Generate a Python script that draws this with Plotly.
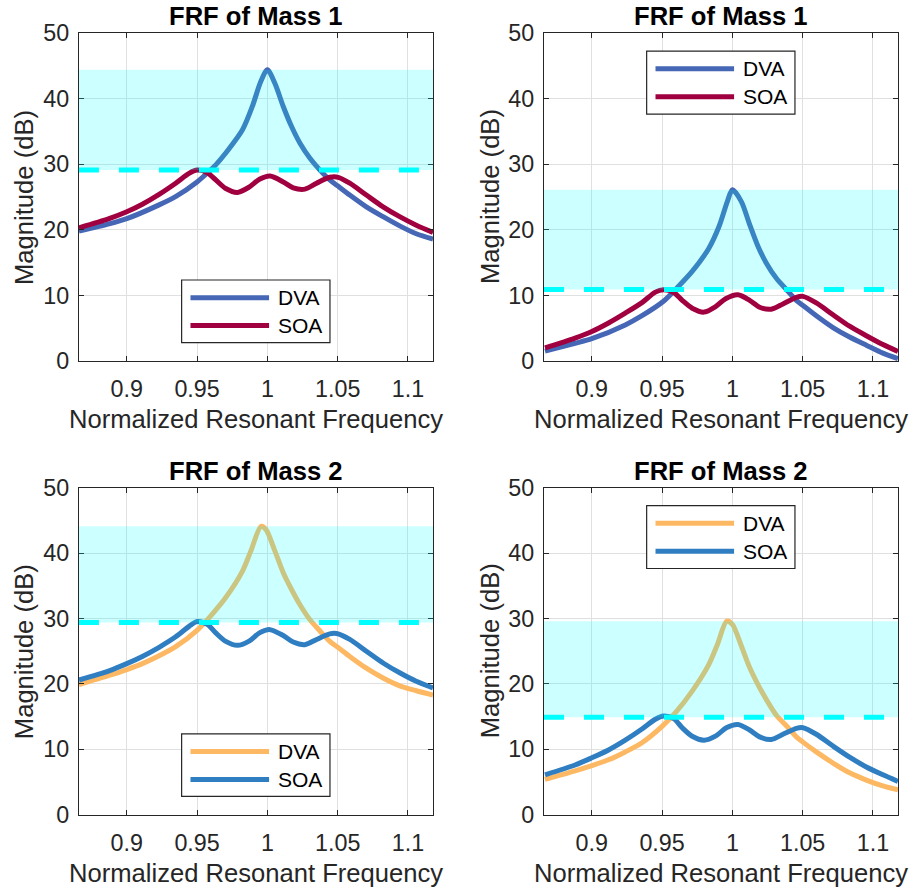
import plotly.graph_objects as go

# ---------------------------------------------------------------------------
# Axis settings shared by all four panels
# ---------------------------------------------------------------------------
FREQ_TICKS = [0.9, 0.95, 1.0, 1.05, 1.1]
FREQ_TICK_TEXT = ["0.9", "0.95", "1", "1.05", "1.1"]
MAG_TICKS = [0, 10, 20, 30, 40, 50]
FREQ_RANGE = [0.866, 1.1178]
MAG_RANGE = [0, 50]

TITLES = ["FRF of Mass 1", "FRF of Mass 1", "FRF of Mass 2", "FRF of Mass 2"]
X_LABEL = "Normalized Resonant Frequency"
Y_LABEL = "Magnitude (dB)"
SERIES_NAMES = ["DVA", "SOA"]

# ---------------------------------------------------------------------------
# Panel 1 (top left): mass 1
# ---------------------------------------------------------------------------
p1_dva_f = [0.866, 0.8874, 0.900, 0.923, 0.935, 0.950, 0.9585, 0.9633, 0.9704,
            0.9822, 0.9893, 0.9953, 1.000, 1.0054, 1.0113, 1.0173, 1.0232,
            1.0303, 1.0374, 1.0444, 1.050, 1.0586, 1.0704, 1.0823, 1.0941,
            1.1059, 1.1178]
p1_dva = [19.8, 20.9, 21.7, 23.8, 25.1, 27.3, 28.9, 29.9, 31.7,
          35.2, 38.8, 42.6, 44.4, 42.3, 38.8, 35.7, 33.2,
          30.9, 29.1, 27.6, 26.7, 25.3, 23.5, 22.0, 20.6,
          19.4, 18.6]
p1_soa_f = [0.866, 0.8874, 0.900, 0.9111, 0.923, 0.9348, 0.9443, 0.950, 0.9573,
            0.9633, 0.9704, 0.9787, 0.987, 0.9944, 1.0019, 1.0113, 1.0184,
            1.0267, 1.035, 1.0444, 1.0504, 1.0586, 1.0704, 1.0823, 1.0941,
            1.1059, 1.1178]
p1_soa = [20.3, 21.7, 22.75, 23.9, 25.4, 27.1, 28.6, 29.1, 28.7,
          27.6, 26.3, 25.7, 26.5, 27.7, 28.2, 27.3, 26.4,
          26.2, 27.1, 28.0, 28.0, 27.1, 25.3, 23.5, 22.0,
          20.7, 19.6]
p1_threshold = 29.1

# ---------------------------------------------------------------------------
# Panel 2 (top right): mass 1
# ---------------------------------------------------------------------------
p2_dva_f = [0.8667, 0.8881, 0.900, 0.9238, 0.9357, 0.951, 0.9595, 0.9714,
            0.9833, 0.9905, 0.9964, 1.000, 1.0064, 1.0123, 1.0182, 1.0242,
            1.0313, 1.0384, 1.0455, 1.0512, 1.0597, 1.0716, 1.0834, 1.0953,
            1.1071, 1.1178]
p2_dva = [1.5, 2.7, 3.4, 5.5, 6.9, 9.1, 10.9, 13.65,
          17.2, 20.5, 24.3, 26.1, 24.3, 20.8, 17.5, 14.9,
          12.6, 10.9, 9.25, 8.3, 6.9, 5.1, 3.65, 2.4,
          1.2, 0.35]
p2_soa_f = [0.8667, 0.8881, 0.900, 0.9119, 0.9238, 0.9357, 0.9452, 0.951,
            0.9583, 0.9643, 0.9714, 0.9798, 0.9881, 0.9952, 1.004, 1.0123,
            1.0194, 1.0277, 1.036, 1.0455, 1.0502, 1.0597, 1.0716, 1.0834,
            1.0953, 1.1071, 1.1178]
p2_soa = [2.0, 3.5, 4.5, 5.8, 7.3, 8.9, 10.5, 10.85,
          10.45, 9.25, 8.05, 7.45, 8.3, 9.5, 10.1, 9.25,
          8.2, 7.9, 8.7, 9.7, 9.85, 8.85, 7.05, 5.3,
          3.85, 2.5, 1.45]
p2_threshold = 10.9

# ---------------------------------------------------------------------------
# Panel 3 (bottom left): mass 2
# ---------------------------------------------------------------------------
p3_dva_f = [0.866, 0.8874, 0.900, 0.9111, 0.923, 0.9348, 0.950, 0.9585, 0.9704,
            0.9822, 0.9882, 0.9955, 0.9991, 1.0054, 1.0113, 1.0173, 1.0232,
            1.0303, 1.0374, 1.0444, 1.0501, 1.0586, 1.0704, 1.0823, 1.0941,
            1.1059, 1.1178]
p3_dva = [19.9, 21.3, 22.2, 23.1, 24.3, 25.7, 28.2, 30.1, 33.2,
          37.2, 40.3, 44.1, 43.6, 40.3, 37.0, 34.4, 32.1,
          29.8, 28.1, 26.5, 25.6, 24.2, 22.4, 20.9, 19.7,
          18.95, 18.3]
p3_soa_f = [0.866, 0.8874, 0.900, 0.9111, 0.923, 0.9348, 0.9443, 0.950, 0.9573,
            0.9633, 0.9704, 0.9787, 0.987, 0.9944, 1.0019, 1.0113, 1.0184,
            1.0267, 1.035, 1.0444, 1.0492, 1.0586, 1.0704, 1.0823, 1.0941,
            1.1059, 1.1178]
p3_soa = [20.6, 22.0, 23.1, 24.2, 25.6, 27.2, 28.8, 29.55, 29.1,
          27.8, 26.5, 25.9, 26.55, 27.8, 28.3, 27.4, 26.4,
          26.0, 26.8, 27.65, 27.7, 26.8, 25.0, 23.2, 21.7,
          20.4, 19.4]
p3_threshold = 29.4

# ---------------------------------------------------------------------------
# Panel 4 (bottom right): mass 2
# ---------------------------------------------------------------------------
p4_dva_f = [0.8667, 0.8881, 0.900, 0.9119, 0.9238, 0.9357, 0.950, 0.9595,
            0.9714, 0.9833, 0.9893, 0.996, 1.000, 1.0064, 1.0123, 1.0182,
            1.0242, 1.0313, 1.0384, 1.0455, 1.0502, 1.0597, 1.0716, 1.0834,
            1.0953, 1.1071, 1.1178]
p4_dva = [5.4, 6.7, 7.5, 8.4, 9.6, 11.0, 13.5, 15.6,
          18.9, 23.0, 26.0, 29.6, 29.1, 25.8, 22.5, 19.9,
          17.6, 15.2, 13.6, 11.9, 11.1, 9.6, 7.9, 6.4,
          5.3, 4.4, 3.8]
p4_soa_f = [0.8667, 0.8881, 0.900, 0.9119, 0.9238, 0.9357, 0.9452, 0.951,
            0.9583, 0.9643, 0.9714, 0.9798, 0.9886, 0.9957, 1.004, 1.0123,
            1.0194, 1.0277, 1.036, 1.0455, 1.0502, 1.0597, 1.0716, 1.0834,
            1.0953, 1.1071, 1.1178]
p4_soa = [6.1, 7.6, 8.7, 9.9, 11.4, 13.1, 14.6, 15.1,
          14.7, 13.3, 12.0, 11.4, 12.1, 13.3, 13.8, 12.95,
          11.9, 11.5, 12.3, 13.2, 13.3, 12.3, 10.5, 8.8,
          7.3, 6.1, 5.1]
p4_threshold = 14.9

# ---------------------------------------------------------------------------
# Styling
# ---------------------------------------------------------------------------
FONT = "Liberation Sans, Arial, Helvetica, sans-serif"
AX_COLOR = "#262626"
GRID_COLOR = "#E0E0E0"
BAND_COLOR = "#00FFFF"
LINE_W = 5

MASS1_COLORS = ["#4567B5", "#A0003F"]   # DVA, SOA
MASS2_COLORS = ["#FDB863", "#2F7EC1"]   # DVA, SOA

X_DOMAINS = [[0.0862, 0.4727], [0.5939, 0.9803]]
Y_DOMAINS = [[0.5944, 0.9629], [0.0846, 0.4520]]

panels = [
    dict(dva=(p1_dva_f, p1_dva), soa=(p1_soa_f, p1_soa), thr=p1_threshold,
         colors=MASS1_COLORS, xd=X_DOMAINS[0], yd=Y_DOMAINS[0], legend_top=False),
    dict(dva=(p2_dva_f, p2_dva), soa=(p2_soa_f, p2_soa), thr=p2_threshold,
         colors=MASS1_COLORS, xd=X_DOMAINS[1], yd=Y_DOMAINS[0], legend_top=True),
    dict(dva=(p3_dva_f, p3_dva), soa=(p3_soa_f, p3_soa), thr=p3_threshold,
         colors=MASS2_COLORS, xd=X_DOMAINS[0], yd=Y_DOMAINS[1], legend_top=False),
    dict(dva=(p4_dva_f, p4_dva), soa=(p4_soa_f, p4_soa), thr=p4_threshold,
         colors=MASS2_COLORS, xd=X_DOMAINS[1], yd=Y_DOMAINS[1], legend_top=True),
]

fig = go.Figure()
shapes = []
annotations = []
layout_axes = {}

for i, p in enumerate(panels, start=1):
    sfx = "" if i == 1 else str(i)
    xref, yref = "x" + sfx, "y" + sfx

    # response curves: DVA first, SOA on top
    for (f, mag), name, color in zip((p["dva"], p["soa"]), SERIES_NAMES, p["colors"]):
        fig.add_trace(go.Scatter(
            x=f, y=mag, name=name, mode="lines",
            line=dict(color=color, width=LINE_W, shape="spline", smoothing=0.8),
            xaxis=xref, yaxis=yref, showlegend=False,
        ))

    # translucent band between the SOA threshold and the DVA peak
    shapes.append(dict(
        type="rect", xref=xref + " domain", yref=yref,
        x0=0, x1=1, y0=p["thr"], y1=max(p["dva"][1]),
        fillcolor=BAND_COLOR, opacity=0.2, line=dict(width=0), layer="above",
    ))
    # dashed threshold line
    shapes.append(dict(
        type="line", xref=xref + " domain", yref=yref,
        x0=0, x1=1, y0=p["thr"], y1=p["thr"],
        line=dict(color=BAND_COLOR, width=5, dash="20px,20px"), layer="above",
    ))

    # legend box drawn inside the axes
    if p["legend_top"]:
        box_y, line_ys = (0.753, 0.945), (0.891, 0.806)
    else:
        box_y, line_ys = (0.056, 0.247), (0.193, 0.108)
    shapes.append(dict(
        type="rect", xref=xref + " domain", yref=yref + " domain",
        x0=0.290, x1=0.709, y0=box_y[0], y1=box_y[1],
        fillcolor="white", line=dict(color=AX_COLOR, width=1.2), layer="above",
    ))
    for name, color, ly in zip(SERIES_NAMES, p["colors"], line_ys):
        shapes.append(dict(
            type="line", xref=xref + " domain", yref=yref + " domain",
            x0=0.315, x1=0.537, y0=ly, y1=ly,
            line=dict(color=color, width=LINE_W), layer="above",
        ))
        annotations.append(dict(
            text=name, xref=xref + " domain", yref=yref + " domain",
            x=0.556, y=ly, xanchor="left", yanchor="middle", showarrow=False,
            font=dict(family=FONT, size=21, color="#000000"),
        ))

    # panel title and axis labels
    annotations.append(dict(
        text="<b>%s</b>" % TITLES[i - 1], xref=xref + " domain", yref=yref + " domain",
        x=0.5, y=1, xanchor="center", yanchor="middle", yshift=17, showarrow=False,
        font=dict(family=FONT, size=25.6, color="#000000"),
    ))
    annotations.append(dict(
        text=X_LABEL, xref=xref + " domain", yref=yref + " domain",
        x=0.5, y=0, xanchor="center", yanchor="middle", yshift=-58, showarrow=False,
        font=dict(family=FONT, size=25.6, color=AX_COLOR),
    ))
    annotations.append(dict(
        text=Y_LABEL, xref=xref + " domain", yref=yref + " domain",
        x=0, y=0.5, xanchor="center", yanchor="middle", textangle=-90,
        xshift=-55 if i in (1, 3) else -54, showarrow=False,
        font=dict(family=FONT, size=25.6, color=AX_COLOR),
    ))

    common = dict(
        showline=True, linecolor=AX_COLOR, linewidth=1.2, mirror="ticks",
        ticks="inside", ticklen=5, tickwidth=1.2, tickcolor=AX_COLOR,
        showgrid=True, gridcolor=GRID_COLOR, gridwidth=1, zeroline=False,
        automargin=False,
        tickfont=dict(family=FONT, size=23.3, color=AX_COLOR),
    )
    layout_axes["xaxis" + sfx] = dict(
        common, domain=p["xd"], anchor=yref, range=FREQ_RANGE,
        tickvals=FREQ_TICKS, ticktext=FREQ_TICK_TEXT, ticklabelstandoff=7,
    )
    layout_axes["yaxis" + sfx] = dict(
        common, domain=p["yd"], anchor=xref, range=MAG_RANGE,
        tickvals=MAG_TICKS, ticklabelstandoff=4,
    )

fig.update_layout(
    template="none",
    width=916, height=890,
    margin=dict(l=0, r=0, t=0, b=0, autoexpand=False),
    paper_bgcolor="white", plot_bgcolor="white",
    showlegend=False,
    shapes=shapes, annotations=annotations,
    **layout_axes,
)

fig.write_html("out.html")
